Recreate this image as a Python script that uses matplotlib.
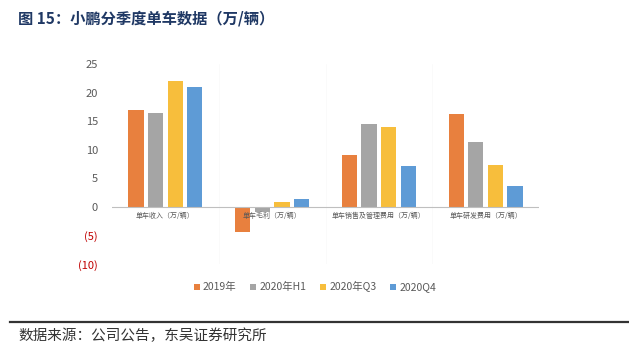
import numpy as np
import matplotlib
matplotlib.use("Agg")
import matplotlib.pyplot as plt

plt.rcParams['font.family'] = ['Noto Sans CJK SC', 'DejaVu Sans']

# --- datos ---
categorias = ['单车收入（万/辆）', '单车毛利（万/辆）', '单车销售及管理费用（万/辆）', '单车研发费用（万/辆）']
series = ['2019年', '2020年H1', '2020年Q3', '2020Q4']
v_2019 = [17.0, -4.4, 9.1, 16.3]
v_2020h1 = [16.5, -0.9, 14.5, 11.4]
v_2020q3 = [22.0, 0.8, 14.0, 7.3]
v_2020q4 = [21.0, 1.4, 7.1, 3.6]
yticks = [-10, -5, 0, 5, 10, 15, 20, 25]
ytick_labels = ['(10)', '(5)', '0', '5', '10', '15', '20', '25']

colores = ['#E8803E', '#A5A5A5', '#F7BE3C', '#5E9BD6']
valores = [v_2019, v_2020h1, v_2020q3, v_2020q4]

fig = plt.figure(figsize=(6.29, 3.52), dpi=100)
ax = fig.add_axes([112/629, 0.25, (539-112)/629, 0.568])

x = np.arange(len(categorias))
w = 0.143
paso = 0.183
for i, (vals, c, nombre) in enumerate(zip(valores, colores, series)):
    ax.bar(x + (i - 1.5) * paso, vals, width=w, color=c, label=nombre, zorder=3)

ax.set_xlim(-0.5, len(categorias) - 0.5)
ax.set_ylim(-10, 25)
ax.axhline(0, color='#BFBFBF', lw=0.8, zorder=4)
for b in np.arange(0.5, len(categorias) - 0.5, 1):
    ax.axvline(b, color='#FAFAFA', lw=0.6, zorder=1)
for s in ax.spines.values():
    s.set_visible(False)

ax.set_xticks([])
ax.set_yticks(yticks)
ax.set_yticklabels(ytick_labels)
ax.tick_params(axis='y', length=0, pad=10, labelsize=8, labelcolor='#595959')
for lab, v in zip(ax.get_yticklabels(), yticks):
    if v < 0:
        lab.set_color('#C00000')

for xi, cat in zip(x, categorias):
    ax.text(xi, -0.9, cat, ha='center', va='top', fontsize=5, color='#595959', zorder=5)

ax.legend(loc='center', bbox_to_anchor=(0.475, -0.115), ncol=4, frameon=False,
          fontsize=7.5, handlelength=0.6, handleheight=0.6, handletextpad=0.3,
          columnspacing=1.3, labelcolor='#595959')

# --- título y fuente ---
fig.text(18/629, 1 - 19/352, '图 15：小鹏分季度单车数据（万/辆）', fontsize=11,
         fontweight='bold', color='#1F3864', va='center', ha='left')
fig.add_artist(plt.Line2D([10/629, 1.0], [1 - 322/352] * 2, color='#333333', lw=1.6))
fig.text(18/629, 1 - 336/352, '数据来源：公司公告，东吴证券研究所', fontsize=10.5,
         color='#333333', va='center', ha='left')

fig.savefig('out.png', dpi=100)
